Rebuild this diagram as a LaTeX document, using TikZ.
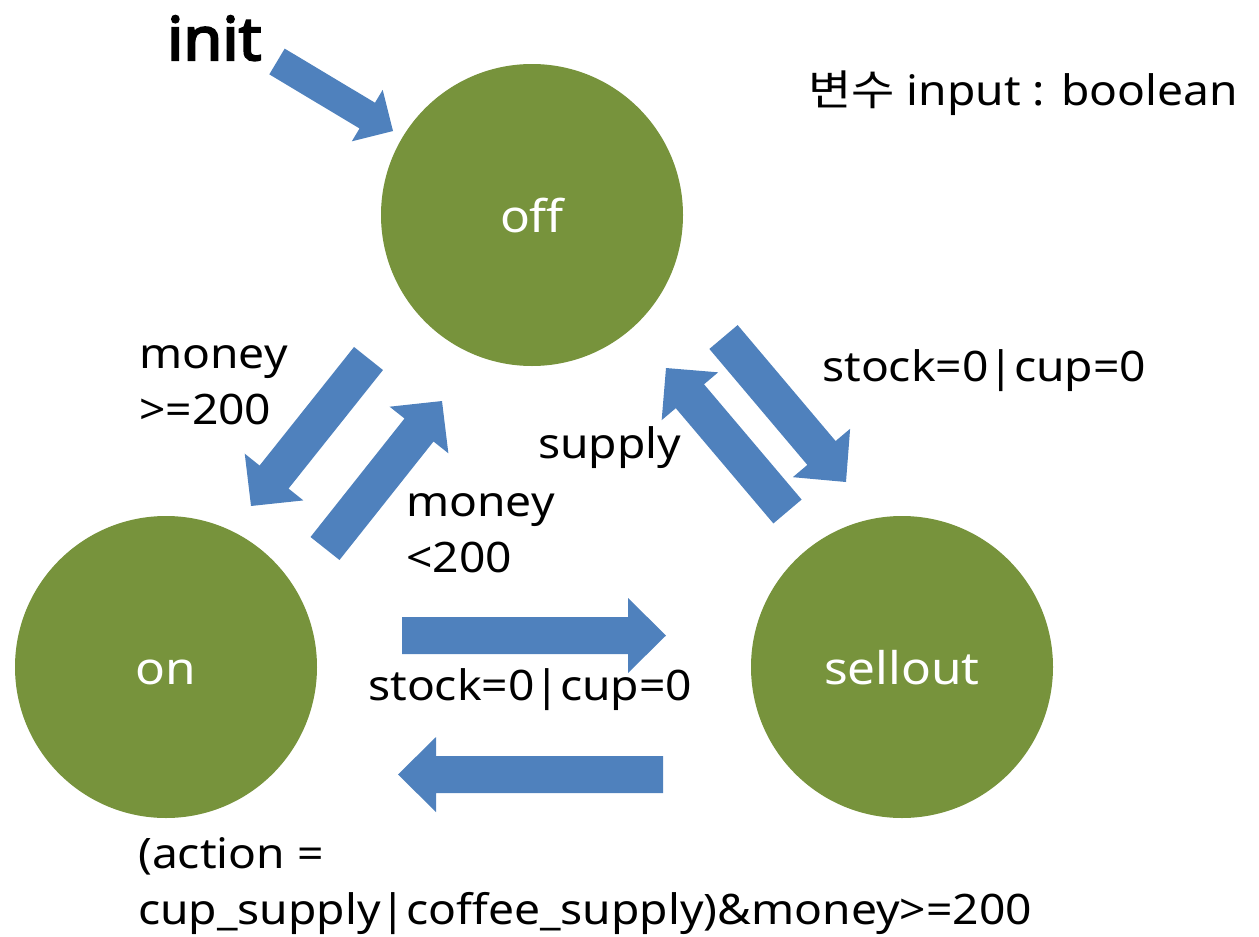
\documentclass[tikz,border=0pt]{standalone}
\usepackage{fontspec}
\setmainfont{Noto Sans}[FakeStretch=1.1, BoldFeatures={FakeBold=3}]
\newfontfamily\cjk{Noto Sans CJK KR}[FakeStretch=1.12]
\newfontfamily\heavy{Noto Sans}[FakeBold=3.5, FakeStretch=1.05]
\usetikzlibrary{calc}

\definecolor{stategreen}{HTML}{77933C}
\definecolor{flowblue}{HTML}{4F81BD}

\tikzset{
  state/.style={circle, fill=stategreen, draw=none, minimum size=302pt,
    inner sep=0pt, text=white, font=\fontsize{45}{54}\selectfont,
    text height=34pt, text depth=0pt},
  lbl/.style={inner sep=0pt, anchor=base west, align=left,
    font=\fontsize{42}{56}\selectfont},
  flowarrow/.style={fill=flowblue, draw=none}
}

% block arrow from #1 (tail centre) to #2 (tip):
% #3 shaft width, #4 head width, #5 head length
\newcommand\blockarr[5]{%
  \path let \p1=(#1), \p2=(#2),
            \n1={atan2(\y2-\y1,\x2-\x1)},
            \n2={veclen(\x2-\x1,\y2-\y1)} in
    \pgfextra{\xdef\baang{\n1}\xdef\balen{\n2}};
  \fill[flowarrow, shift={(#1)}, rotate=\baang]
    (0pt,{#3/2}) -- ({\balen-#5},{#3/2}) -- ({\balen-#5},{#4/2})
    -- (\balen,0pt) -- ({\balen-#5},{-#4/2}) -- ({\balen-#5},{-#3/2})
    -- (0pt,{-#3/2}) -- cycle;
}

\begin{document}
\begin{tikzpicture}[x=1pt, y=-1pt]
  \useasboundingbox (0,0) rectangle (1259,937);

  % states
  \node[state] (off) at (532,215) {off};
  \node[state] (on) at (166,667) {on};
  \node[state] (sellout) at (902,667) {sellout};

  % arrow end points
  \coordinate (initT) at (277,61.5);   \coordinate (initH) at (393,131);
  \coordinate (toOnT) at (368.5,358.5); \coordinate (toOnH) at (251,506);
  \coordinate (toOffT) at (325,548.5); \coordinate (toOffH) at (442,401);
  \coordinate (toSoT) at (723.5,337);  \coordinate (toSoH) at (846,482);
  \coordinate (supT) at (787.5,511.5); \coordinate (supH) at (666,368);
  \coordinate (rgtT) at (402,635.5);   \coordinate (rgtH) at (666,635.5);
  \coordinate (lftT) at (663,774.5);   \coordinate (lftH) at (398,774.5);

  \blockarr{initT}{initH}{30pt}{60pt}{30pt}
  \blockarr{toOnT}{toOnH}{37pt}{75pt}{37pt}
  \blockarr{toOffT}{toOffH}{37pt}{75pt}{37pt}
  \blockarr{toSoT}{toSoH}{37pt}{75pt}{38pt}
  \blockarr{supT}{supH}{37pt}{74pt}{37pt}
  \blockarr{rgtT}{rgtH}{37pt}{75pt}{38pt}
  \blockarr{lftT}{lftH}{37pt}{75pt}{38pt}

  % labels (multi-line labels are placed by their last baseline)
  \node[lbl, font=\fontsize{60}{64}\heavy] (init) at (167,60) {init};
  \node[lbl] (var) at (808,105) {{\cjk 변수} input : boolean};
  \node[lbl] (l1) at (139,424) {money\\>=200};
  \node[lbl] (l2) at (406,572) {money\\<200};
  \node[lbl] (l3) at (822,381) {stock=0|cup=0};
  \node[lbl] (l4) at (538,458) {supply};
  \node[lbl] (l5) at (368,700) {stock=0|cup=0};
  \node[lbl] (l6) at (138,924) {(action =\\cup\_supply|coffee\_supply)\&money>=200};
\end{tikzpicture}
\end{document}
